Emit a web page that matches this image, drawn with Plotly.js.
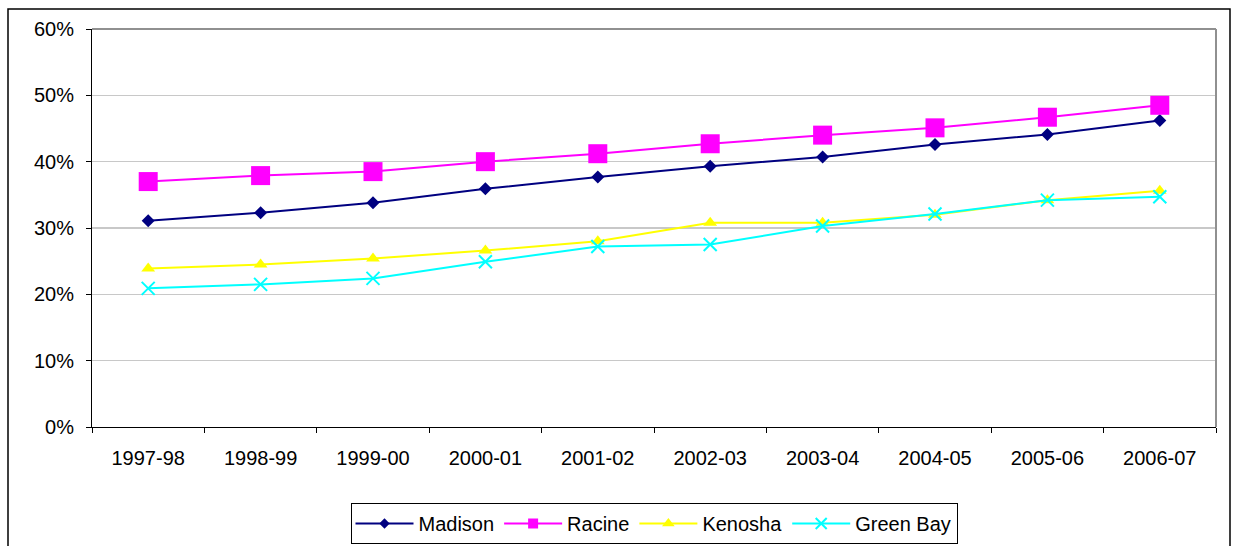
<!DOCTYPE html>
<html>
<head>
<meta charset="utf-8">
<script src="https://cdn.plot.ly/plotly-3.0.1.min.js"></script>
<style>
  html, body { margin: 0; padding: 0; background: #ffffff; }
  #chart { width: 1235px; height: 546px; }
</style>
</head>
<body>
<div id="chart"></div>
<script>
const years = ["1997-98", "1998-99", "1999-00", "2000-01", "2001-02", "2002-03", "2003-04", "2004-05", "2005-06", "2006-07"];
const seriesNames = ["Madison", "Racine", "Kenosha", "Green Bay"];
const madison  = [0.311, 0.323, 0.338, 0.359, 0.377, 0.393, 0.407, 0.426, 0.441, 0.462];
const racine   = [0.370, 0.379, 0.385, 0.400, 0.412, 0.427, 0.440, 0.451, 0.467, 0.485];
const kenosha  = [0.239, 0.245, 0.254, 0.266, 0.280, 0.308, 0.308, 0.320, 0.342, 0.356];
const greenBay = [0.209, 0.215, 0.224, 0.249, 0.272, 0.275, 0.303, 0.321, 0.342, 0.347];

const FONT = "Liberation Sans, Arial, sans-serif";
const colors = ["#000080", "#FF00FF", "#FFFF00", "#00FFFF"];
const symbols = ["diamond", "square", "triangle-up", "x-thin"];
const plotSizes = [10, 19, 12, 13];
const legendSizes = [8, 10, 11, 11];
const values = [madison, racine, kenosha, greenBay];

const traces = [];
values.forEach((vals, i) => {
  traces.push({
    name: seriesNames[i], x: years, y: vals, type: "scatter", mode: "lines+markers",
    showlegend: false, legendgroup: seriesNames[i],
    line: { color: colors[i], width: 2 },
    marker: { symbol: symbols[i], size: plotSizes[i], color: colors[i],
              line: symbols[i] === "x-thin" ? { color: colors[i], width: 2 } : { width: 0 } }
  });
});
// legend entries (smaller symbols, as in the reference legend)
values.forEach((vals, i) => {
  traces.push({
    name: seriesNames[i], x: [null], y: [null], type: "scatter", mode: "lines+markers",
    showlegend: true, legendgroup: seriesNames[i],
    line: { color: colors[i], width: 2 },
    marker: { symbol: symbols[i], size: legendSizes[i], color: colors[i],
              line: symbols[i] === "x-thin" ? { color: colors[i], width: 2 } : { width: 0 } }
  });
});

const layout = {
  width: 1235, height: 546,
  margin: { l: 92, r: 19, t: 29, b: 119, autoexpand: false },
  paper_bgcolor: "#ffffff", plot_bgcolor: "#ffffff",
  font: { family: FONT, size: 20, color: "#000000" },
  showlegend: true,
  legend: {
    orientation: "h", x: 0.5, xanchor: "center",
    yref: "container", y: 1 - 503 / 546, yanchor: "top",
    bordercolor: "#000000", borderwidth: 1, bgcolor: "#ffffff",
    font: { family: FONT, size: 20, color: "#000000" },
    itemwidth: 58, tracegroupgap: 0
  },
  xaxis: {
    type: "category", range: [-0.5, 9.5],
    showgrid: false, zeroline: false,
    showline: true, linecolor: "#000000", linewidth: 1,
    ticks: "outside", tickson: "boundaries", ticklen: 5, tickcolor: "#000000",
    ticklabelstandoff: 13,
    tickfont: { family: FONT, size: 20, color: "#000000" },
    fixedrange: true
  },
  yaxis: {
    range: [0, 0.6], dtick: 0.1, tickformat: ".0%",
    showgrid: true, gridcolor: "#c8c8c8", gridwidth: 1.5,
    zeroline: false,
    showline: true, linecolor: "#000000", linewidth: 1,
    ticks: "outside", ticklen: 5, tickcolor: "#000000",
    ticklabelstandoff: 8,
    tickfont: { family: FONT, size: 20, color: "#000000" },
    fixedrange: true
  },
  shapes: [
    { type: "line", xref: "paper", yref: "paper", x0: 0, x1: 1, y0: 1, y1: 1,
      line: { color: "#909090", width: 2 } },
    { type: "line", xref: "paper", yref: "paper", x0: 1, x1: 1, y0: 0, y1: 1,
      line: { color: "#909090", width: 2 } },
    { type: "rect", xref: "paper", yref: "paper",
      x0: (8 - 92) / 1124, x1: (1230 - 92) / 1124, y0: -0.4, y1: (427 - 9) / 398,
      line: { color: "#000000", width: 1.5 }, fillcolor: "rgba(0,0,0,0)", layer: "below" }
  ]
};

Plotly.newPlot("chart", traces, layout, { staticPlot: true, displayModeBar: false });
</script>
</body>
</html>
